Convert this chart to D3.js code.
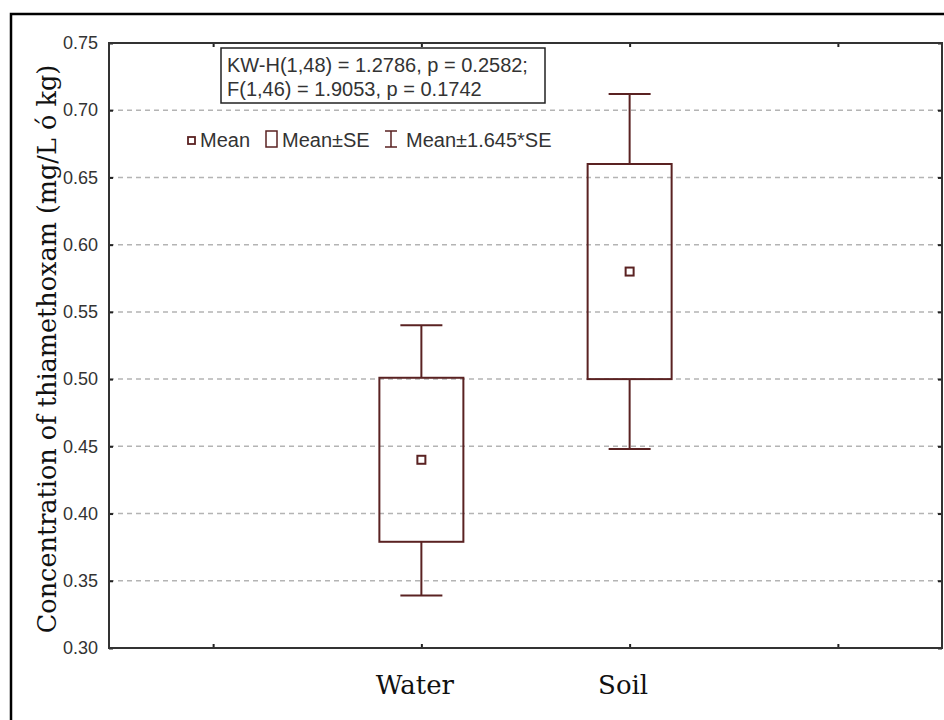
<!DOCTYPE html>
<html>
<head>
<meta charset="utf-8">
<script src="https://cdn.jsdelivr.net/npm/d3@7"></script>
<style>
  body { margin: 0; background: #fff; }
  svg { display: block; }
</style>
</head>
<body>
<script>
// Data
// =================================
var groups = ["Water", "Soil"];
var means = [0.440, 0.580];
var seLow = [0.379, 0.500];       // Mean - SE
var seHigh = [0.501, 0.660];      // Mean + SE
var ciLow = [0.339, 0.448];       // Mean - 1.645*SE
var ciHigh = [0.540, 0.712];      // Mean + 1.645*SE
var yTicks = [0.30, 0.35, 0.40, 0.45, 0.50, 0.55, 0.60, 0.65, 0.70, 0.75];
var xSlots = ["", "Water", "Soil", " "];
var statLines = ["KW-H(1,48) = 1.2786, p = 0.2582;", "F(1,46) = 1.9053, p = 0.1742"];
var legendItems = ["Mean", "Mean\u00b1SE", "Mean\u00b11.645*SE"];

// Set up chart
// =================================
var svgWidth = 944;
var svgHeight = 720;
var margin = { top: 43, right: 2, bottom: 72, left: 109 };
var chartWidth = svgWidth - margin.left - margin.right;
var chartHeight = svgHeight - margin.top - margin.bottom;
var ink = "#5a2222";

var svg = d3.select("body")
    .append("svg")
    .attr("width", svgWidth)
    .attr("height", svgHeight);

// outer frame
svg.append("rect")
    .attr("x", 11)
    .attr("y", 14)
    .attr("width", 960)
    .attr("height", 760)
    .attr("fill", "none")
    .attr("stroke", "#000")
    .attr("stroke-width", 2.5);

var chartGroup = svg.append("g")
    .attr("transform", `translate(${margin.left}, ${margin.top})`);

// scales
var xScale = d3.scalePoint()
    .domain(xSlots)
    .range([0, chartWidth])
    .padding(0.5);

var yScale = d3.scaleLinear()
    .domain([0.30, 0.75])
    .range([chartHeight, 0]);

// gridlines
chartGroup.selectAll(".grid")
    .data(yTicks.slice(1, -1))
    .enter()
    .append("line")
    .attr("class", "grid")
    .attr("x1", 0)
    .attr("x2", chartWidth)
    .attr("y1", d => yScale(d))
    .attr("y2", d => yScale(d))
    .attr("stroke", "#b4b4b4")
    .attr("stroke-width", 1.5)
    .attr("stroke-dasharray", "5,4");

// axes, ticks pointing inward
var leftAxis = d3.axisLeft(yScale).tickValues(yTicks).tickFormat(d3.format(".2f")).tickSize(-4).tickPadding(11);
var rightAxis = d3.axisRight(yScale).tickValues(yTicks).tickFormat("").tickSize(-4);
var bottomAxis = d3.axisBottom(xScale).tickSize(-4).tickPadding(28);
var topAxis = d3.axisTop(xScale).tickFormat("").tickSize(-4);

var yAxisG = chartGroup.append("g").call(leftAxis);
yAxisG.selectAll("text")
    .attr("font-family", "'Liberation Sans', Arial, sans-serif")
    .attr("font-size", 18)
    .attr("fill", "#333");

chartGroup.append("g")
    .attr("transform", `translate(${chartWidth}, 0)`)
    .call(rightAxis);

chartGroup.append("g").call(topAxis);

var xAxisG = chartGroup.append("g")
    .attr("transform", `translate(0, ${chartHeight})`)
    .call(bottomAxis);
xAxisG.selectAll("text")
    .attr("font-family", "'DejaVu Serif', serif")
    .attr("font-size", 26)
    .attr("dx", -7)
    .attr("fill", "#111");

chartGroup.selectAll(".domain").remove();
chartGroup.selectAll(".tick line").attr("stroke", "#222").attr("stroke-width", 2);

// plot border
chartGroup.append("rect")
    .attr("width", chartWidth)
    .attr("height", chartHeight)
    .attr("fill", "none")
    .attr("stroke", "#333")
    .attr("stroke-width", 2);

// y axis label
svg.append("text")
    .attr("transform", "rotate(-90)")
    .attr("x", -349)
    .attr("y", 56)
    .attr("text-anchor", "middle")
    .attr("font-family", "'DejaVu Serif', serif")
    .attr("font-size", 25.5)
    .attr("fill", "#111")
    .text("Concentration of thiamethoxam (mg/L \u00f3 kg)");

// boxes and whiskers
var boxW = 84;
var capW = 42;
var boxes = chartGroup.selectAll(".grp")
    .data(groups)
    .enter()
    .append("g")
    .attr("class", "grp")
    .attr("transform", d => `translate(${xScale(d)}, 0)`);

boxes.append("line")
    .attr("y1", (d, i) => yScale(ciHigh[i]))
    .attr("y2", (d, i) => yScale(seHigh[i]))
    .attr("stroke", ink).attr("stroke-width", 2);
boxes.append("line")
    .attr("y1", (d, i) => yScale(seLow[i]))
    .attr("y2", (d, i) => yScale(ciLow[i]))
    .attr("stroke", ink).attr("stroke-width", 2);
boxes.append("line")
    .attr("x1", -capW / 2).attr("x2", capW / 2)
    .attr("y1", (d, i) => yScale(ciHigh[i]))
    .attr("y2", (d, i) => yScale(ciHigh[i]))
    .attr("stroke", ink).attr("stroke-width", 2);
boxes.append("line")
    .attr("x1", -capW / 2).attr("x2", capW / 2)
    .attr("y1", (d, i) => yScale(ciLow[i]))
    .attr("y2", (d, i) => yScale(ciLow[i]))
    .attr("stroke", ink).attr("stroke-width", 2);
boxes.append("rect")
    .attr("x", -boxW / 2)
    .attr("width", boxW)
    .attr("y", (d, i) => yScale(seHigh[i]))
    .attr("height", (d, i) => yScale(seLow[i]) - yScale(seHigh[i]))
    .attr("fill", "none")
    .attr("stroke", ink).attr("stroke-width", 2);
boxes.append("rect")
    .attr("x", -4)
    .attr("width", 8)
    .attr("y", (d, i) => yScale(means[i]) - 4)
    .attr("height", 8)
    .attr("fill", "#fff")
    .attr("stroke", ink).attr("stroke-width", 2);

// stats box
svg.append("rect")
    .attr("x", 221).attr("y", 48)
    .attr("width", 324).attr("height", 55)
    .attr("fill", "#fff")
    .attr("stroke", "#222")
    .attr("stroke-width", 1.5);
svg.selectAll(".stat")
    .data(statLines)
    .enter()
    .append("text")
    .attr("class", "stat")
    .attr("x", 227)
    .attr("y", (d, i) => 72 + i * 24)
    .attr("font-family", "'Liberation Sans', Arial, sans-serif")
    .attr("font-size", 20)
    .attr("fill", "#333")
    .text(d => d);

// legend
var legend = svg.append("g");
legend.append("rect")
    .attr("x", 188).attr("y", 137).attr("width", 7).attr("height", 7)
    .attr("fill", "#fff").attr("stroke", ink).attr("stroke-width", 1.8);
legend.append("rect")
    .attr("x", 266).attr("y", 131).attr("width", 11).attr("height", 16)
    .attr("fill", "#fff").attr("stroke", ink).attr("stroke-width", 1.5);
legend.append("path")
    .attr("d", "M385,131H397M391,131V147M385,147H397")
    .attr("fill", "none").attr("stroke", ink).attr("stroke-width", 1.5);
legend.selectAll(".leg")
    .data(legendItems)
    .enter()
    .append("text")
    .attr("class", "leg")
    .attr("x", (d, i) => [200, 282, 406][i])
    .attr("y", 147)
    .attr("font-family", "'Liberation Sans', Arial, sans-serif")
    .attr("font-size", 20)
    .attr("fill", "#333")
    .text(d => d);
</script>
</body>
</html>
